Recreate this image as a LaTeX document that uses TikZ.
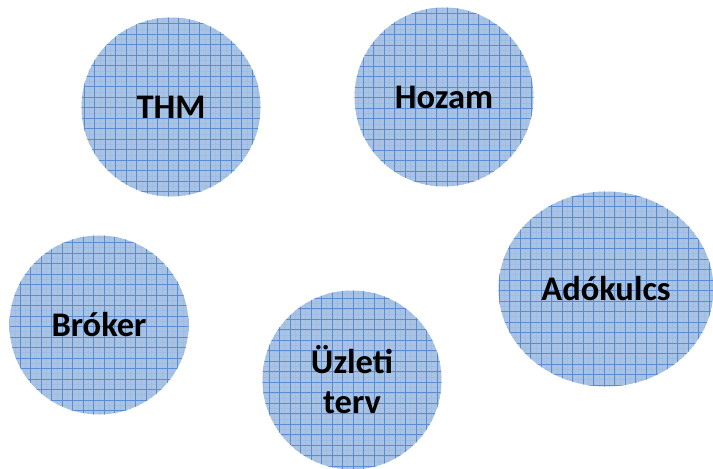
\documentclass[tikz,border=0pt]{standalone}
\usepackage{fontspec}
\setmainfont{Carlito}
\usetikzlibrary{shapes.geometric}
\definecolor{cfill}{HTML}{A9C3E5}
\definecolor{cgrid}{HTML}{5B8CD2}
\definecolor{cfine}{HTML}{A1BCE1}
\tikzset{
  gridfill/.style={fill=cfill, inner sep=0pt,
    path picture={
      \draw[cfine, line width=0.5pt, step=5.25pt]
        ([shift={(-6pt,-6pt)}]path picture bounding box.south west) grid ([shift={(6pt,6pt)}]path picture bounding box.north east);
      \draw[cgrid, line width=0.9pt, step=10.5pt]
        ([shift={(-11pt,-11pt)}]path picture bounding box.south west) grid ([shift={(11pt,11pt)}]path picture bounding box.north east);
    },
    font=\fontsize{34.5}{40}\selectfont\bfseries, text=black, align=center},
  bubble/.style={gridfill, circle, minimum size=179pt},
  oval/.style={gridfill, ellipse, minimum width=215pt, minimum height=195pt}
}
\begin{document}
\begin{tikzpicture}[x=1pt,y=-1pt]
\useasboundingbox (0,0) rectangle (713,469);
\node[bubble] (thm) at (171,107) {THM};
\node[bubble] (hozam) at (444,97) {Hozam};
\node[bubble] (broker) at (99,325) {Bróker};
\node[bubble] (uzleti) at (352,380) {Üzleti\\terv};
\node[oval] (ado) at (606,289) {Adókulcs};
\end{tikzpicture}
\end{document}
